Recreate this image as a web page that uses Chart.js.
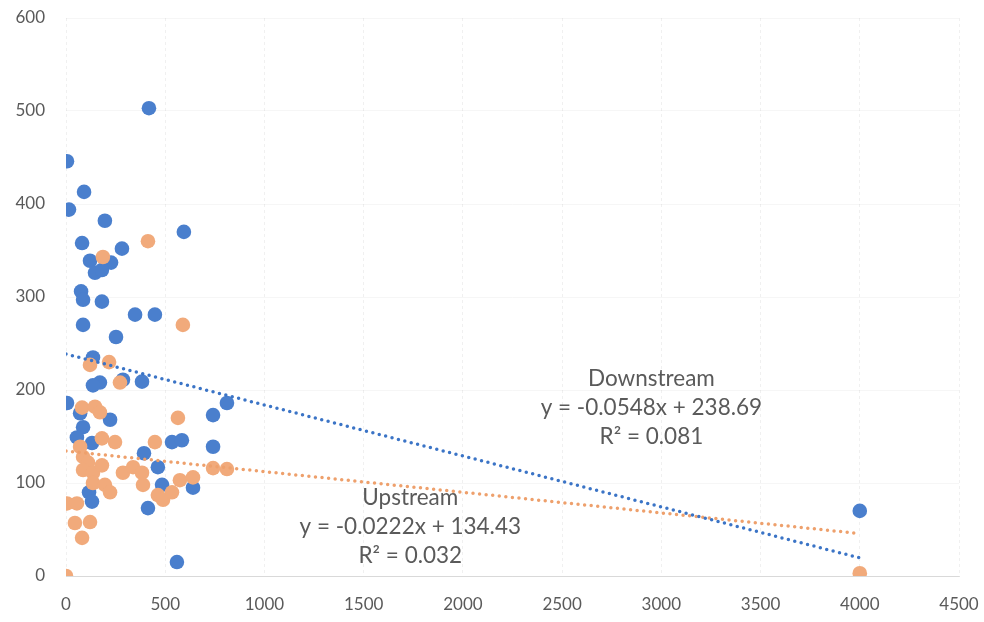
<!DOCTYPE html>
<html>
<head>
<meta charset="utf-8">
<script src="https://cdn.jsdelivr.net/npm/chart.js@4.4.1/dist/chart.umd.min.js"></script>
<style>
  html, body { margin: 0; padding: 0; background: #ffffff; }
  #wrap { position: relative; width: 984px; height: 622px; }
</style>
</head>
<body>
<div id="wrap"><canvas id="chart" width="984" height="622"></canvas></div>
<script>
// Series names
const seriesNames = ['Downstream', 'Upstream'];

// Downstream samples: x and y values
const downX = [418, 5, 91, 15, 196, 594, 81, 282, 121, 227, 146, 181, 76, 86, 181, 348, 448, 86, 252, 136,
               171, 136, 287, 383, 5, 71, 222, 86, 55, 131, 741, 811, 534, 584, 393, 741, 463, 484, 640, 116,
               131, 413, 559, 4000];
const downY = [503, 446, 413, 394, 382, 370, 358, 352, 339, 337, 326, 329, 306, 297, 295, 281, 281, 270, 257, 235,
               208, 205, 211, 209, 186, 175, 168, 160, 149, 143, 173, 186, 144, 146, 132, 139, 117, 98, 95, 90,
               80, 73, 15, 70];

// Upstream samples: x and y values
const upX = [413, 186, 589, 121, 217, 272, 81, 146, 171, 564, 181, 247, 71, 448, 86, 111, 86, 136, 181, 287,
             338, 383, 741, 811, 136, 196, 222, 388, 574, 640, 5, 55, 463, 489, 534, 45, 121, 81, 0, 4000];
const upY = [360, 343, 270, 227, 230, 208, 181, 182, 176, 170, 148, 144, 139, 144, 128, 122, 114, 111, 119, 111,
             117, 111, 116, 115, 100, 98, 90, 98, 103, 106, 78, 78, 87, 82, 90, 57, 58, 41, 0, 3];

// Linear trend coefficients (Downstream, Upstream)
const trendSlopes = [-0.0548, -0.0222];
const trendIntercepts = [238.69, 134.43];
const trendR2 = ['0.081', '0.032'];
const trendRange = [0, 4000];

// Where each trend caption sits, in data units (x, y of the first line)
const captionX = [2950, 1735];
const captionY = [212, 84];

// Axis ticks
const xTicks = [0, 500, 1000, 1500, 2000, 2500, 3000, 3500, 4000, 4500];
const yTicks = [0, 100, 200, 300, 400, 500, 600];

const toPoints = (xs, ys) => xs.map((x, i) => ({ x: x, y: ys[i] }));
const trendPoints = i => trendRange.map(x => ({ x: x, y: trendIntercepts[i] + trendSlopes[i] * x }));

const BLUE = '#4a7fcd';
const ORANGE = '#f1aa7b';
const BLUE_LINE = '#3b74c6';
const ORANGE_LINE = '#eea06c';
const TEXT = '#5a5a5a';
const FONT = 'Lato, "Open Sans", "DejaVu Sans", sans-serif';

const captionPlugin = {
  id: 'trendCaptions',
  afterDatasetsDraw(chart) {
    const { ctx, scales } = chart;
    ctx.save();
    ctx.fillStyle = TEXT;
    ctx.font = '22.5px ' + FONT;
    ctx.textAlign = 'center';
    ctx.textBaseline = 'middle';
    seriesNames.forEach((name, i) => {
      const cx = scales.x.getPixelForValue(captionX[i]);
      const cy = scales.y.getPixelForValue(captionY[i]);
      const sign = trendIntercepts[i] >= 0 ? '+' : '-';
      const lines = [
        name,
        'y = ' + trendSlopes[i] + 'x ' + sign + ' ' + Math.abs(trendIntercepts[i]).toFixed(2),
        'R² = ' + trendR2[i]
      ];
      lines.forEach((t, k) => ctx.fillText(t, cx, cy + k * 29));
    });
    ctx.restore();
  }
};

new Chart(document.getElementById('chart'), {
  type: 'scatter',
  data: {
    datasets: [
      {
        label: seriesNames[0] + ' trend',
        type: 'line',
        data: trendPoints(0),
        borderColor: BLUE_LINE,
        borderWidth: 3.5,
        borderDash: [0, 6.6],
        borderCapStyle: 'round',
        pointRadius: 0,
        fill: false
      },
      {
        label: seriesNames[1] + ' trend',
        type: 'line',
        data: trendPoints(1),
        borderColor: ORANGE_LINE,
        borderWidth: 3.5,
        borderDash: [0, 6.6],
        borderCapStyle: 'round',
        pointRadius: 0,
        fill: false
      },
      {
        label: seriesNames[1],
        data: toPoints(upX, upY),
        backgroundColor: ORANGE,
        borderWidth: 0,
        pointRadius: 7.3
      },
      {
        label: seriesNames[0],
        data: toPoints(downX, downY),
        backgroundColor: BLUE,
        borderWidth: 0,
        pointRadius: 7.3
      }
    ]
  },
  options: {
    responsive: false,
    animation: false,
    layout: { padding: { left: 0, right: 25, top: 18, bottom: 0 } },
    plugins: {
      legend: { display: false },
      tooltip: { enabled: false }
    },
    scales: {
      x: {
        type: 'linear',
        min: 0,
        max: 4500,
        afterBuildTicks: s => { s.ticks = xTicks.map(v => ({ value: v })); },
        afterFit: s => { s.height = 46; s.paddingLeft = 0; s.paddingRight = 0; },
        border: { display: true, color: 'rgba(0,0,0,0.12)', dash: [3, 3] },
        grid: { color: 'rgba(0,0,0,0.06)', drawTicks: false },
        ticks: { color: TEXT, font: { family: FONT, size: 17 }, padding: 18, maxRotation: 0,
                 callback: v => String(v) }
      },
      y: {
        type: 'linear',
        min: 0,
        max: 600,
        afterBuildTicks: s => { s.ticks = yTicks.map(v => ({ value: v })); },
        afterFit: s => { s.width = 66; s.paddingTop = 0; s.paddingBottom = 0; },
        border: { display: false },
        grid: { color: 'rgba(0,0,0,0.035)', drawTicks: false },
        ticks: { color: TEXT, font: { family: FONT, size: 17 }, padding: 21,
                 callback: v => String(v) }
      }
    }
  },
  plugins: [captionPlugin]
});
</script>
</body>
</html>
